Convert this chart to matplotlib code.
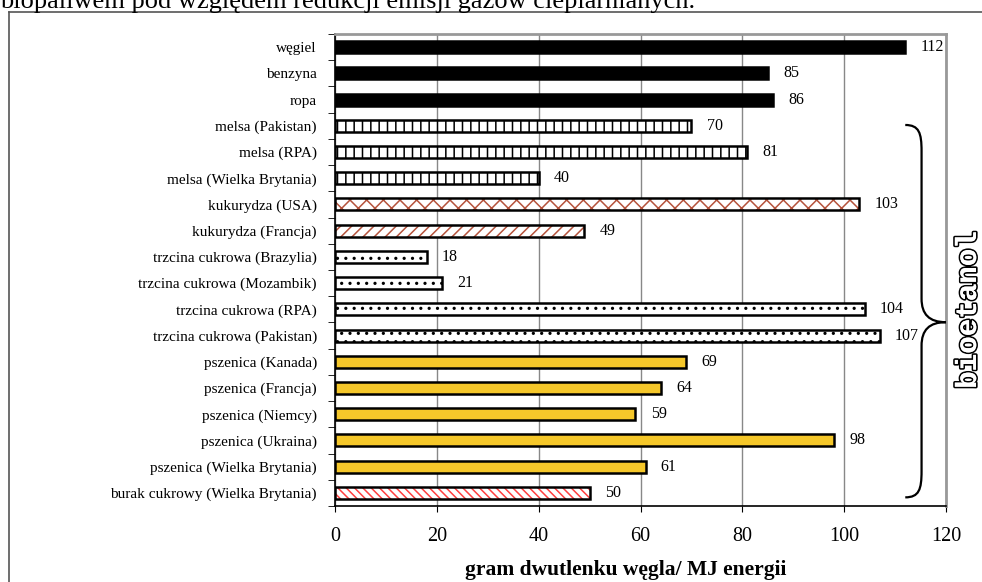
import numpy as np
import matplotlib
matplotlib.use("Agg")
import matplotlib.pyplot as plt
import matplotlib.patheffects as pe
from matplotlib.path import Path
from matplotlib.patches import PathPatch

plt.rcParams['font.family'] = ['Liberation Serif', 'DejaVu Serif']
plt.rcParams['hatch.linewidth'] = 1.1

# dane
kategorie = ["węgiel", "benzyna", "ropa",
             "melsa (Pakistan)", "melsa (RPA)", "melsa (Wielka Brytania)",
             "kukurydza (USA)", "kukurydza (Francja)",
             "trzcina cukrowa (Brazylia)", "trzcina cukrowa (Mozambik)",
             "trzcina cukrowa (RPA)", "trzcina cukrowa (Pakistan)",
             "pszenica (Kanada)", "pszenica (Francja)", "pszenica (Niemcy)",
             "pszenica (Ukraina)", "pszenica (Wielka Brytania)",
             "burak cukrowy (Wielka Brytania)"]
wartosci = [112, 85, 86, 70, 81, 40, 103, 49, 18, 21, 104, 107,
            69, 64, 59, 98, 61, 50]
grupy = ["paliwo"] * 3 + ["melsa"] * 3 + ["kuk_usa", "kuk_fr"] + \
        ["trzcina"] * 4 + ["pszenica"] * 5 + ["burak"]

# wygląd grup: (wypełnienie, kreskowanie, kolor kreskowania)
style = {
    "paliwo": ("black", None, "black"),
    "melsa": ("white", "||", "black"),
    "kuk_usa": ("white", "xx", "#b5533c"),
    "kuk_fr": ("white", "///", "#b5533c"),
    "trzcina": ("white", "..", "black"),
    "pszenica": ("#f5c72a", None, "black"),
    "burak": ("white", "\\\\\\\\", "#ff4040"),
}

fig = plt.figure(figsize=(9.82, 5.82), dpi=100)
ax = fig.add_axes([335 / 982, 1 - 506 / 582, (946 - 335) / 982, (506 - 34) / 582])

y = np.arange(len(kategorie))
for yi, v, g in zip(y, wartosci, grupy):
    fc, hatch, hc = style[g]
    ax.barh(yi, v, height=0.46, color=fc, hatch=hatch, edgecolor=hc,
            linewidth=0, zorder=3)
    ax.barh(yi, v, height=0.46, fill=False, edgecolor="black",
            linewidth=1.8, zorder=4)
    ax.annotate(str(v), (v, yi), xytext=(11, 0), textcoords="offset points",
                va="center", ha="left", fontsize=11.5)

ax.set_xlim(0, 120)
ax.set_ylim(len(kategorie) - 0.5, -0.5)
ax.set_xticks(np.arange(0, 121, 20))
ax.tick_params(axis="x", labelsize=14.5, length=4, direction="out", pad=11)
ax.set_yticks(y)
ax.set_yticklabels(kategorie, fontsize=11)
ax.set_yticks(np.arange(-0.5, len(kategorie), 1), minor=True)
ax.tick_params(axis="y", which="major", length=0, pad=13)
ax.tick_params(axis="y", which="minor", length=5, direction="out")
ax.xaxis.grid(True, color="#888888", linewidth=1, zorder=0)
ax.set_axisbelow(True)
for s in ["top", "right"]:
    ax.spines[s].set_color("#999999")
    ax.spines[s].set_linewidth(2)
ax.spines["left"].set_linewidth(1.2)
ax.spines["bottom"].set_linewidth(1.2)
ax.set_xlabel("gram dwutlenku węgla/ MJ energii", fontsize=15.5,
              fontweight="bold")
ax.xaxis.set_label_coords(0.475, -0.115)

# klamra "bioetanol"
x0, x1, x2 = 112, 115.2, 120
ya, ym, yb = 2.97, 10.49, 17.17
verts = [(x0, ya),
         (x1 - 0.5, ya), (x1, ya + 0.3), (x1, ya + 1.0),
         (x1, ym - 0.9),
         (x1, ym - 0.3), (x1 + 1.5, ym), (x2, ym),
         (x1 + 1.5, ym), (x1, ym + 0.3), (x1, ym + 0.9),
         (x1, yb - 1.0),
         (x1, yb - 0.3), (x1 - 0.5, yb), (x0, yb)]
codes = [Path.MOVETO] + [Path.CURVE4] * 3 + [Path.LINETO] + \
        [Path.CURVE4] * 6 + [Path.LINETO] + [Path.CURVE4] * 3
brace = PathPatch(Path(verts, codes), fill=False, lw=1.6, edgecolor="black",
                  transform=ax.transData, clip_on=False, zorder=5)
ax.add_patch(brace)

fig.text(968 / 982, 1 - 310 / 582, "bioetanol", rotation=90, ha="center",
         va="center", fontsize=21, family="Liberation Mono", fontweight="bold",
         color="white",
         path_effects=[pe.withStroke(linewidth=2.4, foreground="black"),
                       pe.Normal()])

# ramka i obcięty tekst u góry
fig.add_artist(plt.Line2D([9 / 982, 1], [1 - 12 / 582, 1 - 12 / 582],
                          color="#555555", lw=1.2))
fig.add_artist(plt.Line2D([9 / 982, 9 / 982], [0, 1 - 12 / 582],
                          color="#555555", lw=1.2))
fig.text(0, 1 - 8 / 582, "biopaliwem pod względem redukcji emisji gazów cieplarnianych.",
         fontsize=19, va="baseline", ha="left")

fig.savefig("out.png", dpi=100)
